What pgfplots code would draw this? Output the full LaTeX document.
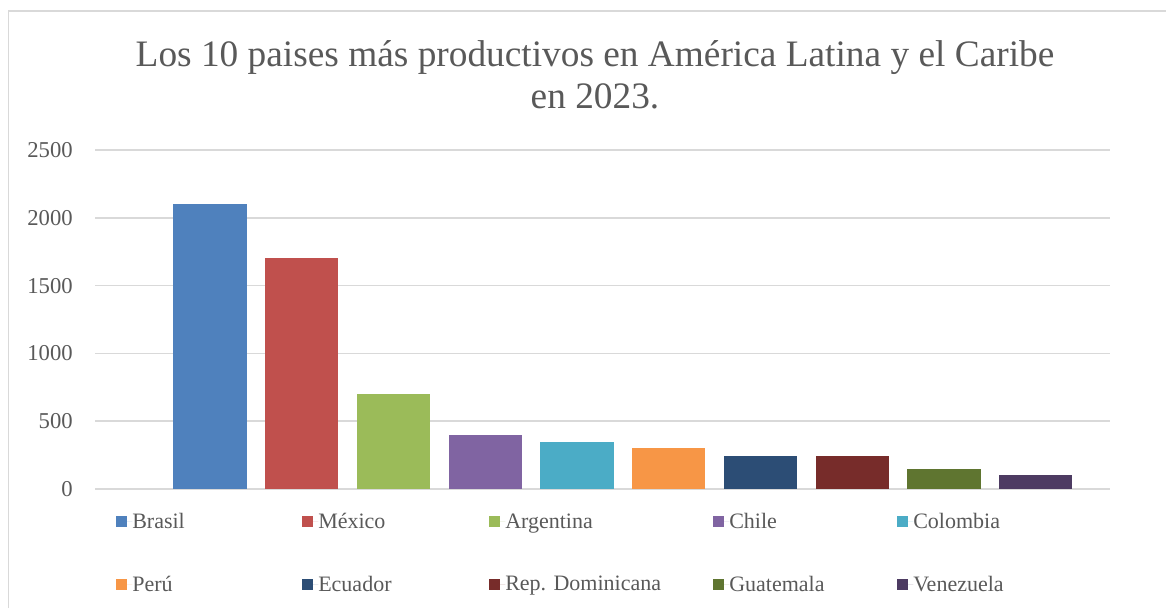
\documentclass[border=0pt]{standalone}
\usepackage{pgfplots}
\pgfplotsset{compat=1.18}
\usepackage{fontspec}
\setmainfont{Liberation Serif}
\definecolor{txt}{HTML}{595959}
\definecolor{gridc}{HTML}{D9D9D9}
\definecolor{c1}{HTML}{4F81BD}
\definecolor{c2}{HTML}{C0504D}
\definecolor{c3}{HTML}{9BBB59}
\definecolor{c4}{HTML}{8064A2}
\definecolor{c5}{HTML}{4BACC6}
\definecolor{c6}{HTML}{F79646}
\definecolor{c7}{HTML}{2C4D75}
\definecolor{c8}{HTML}{772C2A}
\definecolor{c9}{HTML}{5F7530}
\definecolor{c10}{HTML}{4D3B62}
\begin{document}
\begin{tikzpicture}
\useasboundingbox (0pt,0pt) rectangle (874.5pt,456pt);
\draw[gridc, line width=1.2pt] (6.375pt,0pt) -- (6.375pt,447.75pt) -- (874.5pt,447.75pt);
\node[anchor=base, font=\fontsize{28pt}{32pt}\selectfont, text=txt, inner sep=0pt] at (446.25pt,405.75pt) {Los 10 paises más productivos en América Latina y el Caribe};
\node[anchor=base, font=\fontsize{28pt}{32pt}\selectfont, text=txt, inner sep=0pt] at (446.25pt,374.25pt) {en 2023.};
\begin{axis}[
  at={(71.25pt,89.25pt)}, anchor=south west,
  scale only axis, width=761.25pt, height=254.25pt,
  xmin=-1.254, xmax=9.81, ymin=0, ymax=2500,
  ytick={0,500,1000,1500,2000,2500},
  xtick=\empty,
  ymajorgrids, grid style={gridc, line width=1.2pt},
  axis line style={draw=none},
  major tick length=0pt,
  /pgf/number format/assume math mode=true,
  /pgf/number format/1000 sep={},
  yticklabel style={font=\fontsize{17pt}{19pt}\selectfont, text=txt, inner sep=0pt, xshift=-16.5pt},
  legend columns=5,
  legend style={at={(0.0207,-0.071)}, anchor=north west, draw=none, fill=none, inner sep=0pt,
    font=\fontsize{16.5pt}{19pt}\selectfont, text=txt,
    nodes={inner sep=0pt, anchor=west},
    /tikz/column sep=0pt, /tikz/row sep=34pt},
  legend cell align=left,
  legend image code/.code={\fill[#1] (0pt,-4.125pt) rectangle (8.25pt,4.125pt); \path (0pt,0pt) -- (12pt,0pt);},
]
\addplot[ybar, bar width=0.8, fill=c1, draw=none] coordinates {(0,2100)};
\addlegendentry{\makebox[127.5pt][l]{Brasil}}
\addplot[ybar, bar width=0.8, fill=c2, draw=none] coordinates {(1,1700)};
\addlegendentry{\makebox[128.25pt][l]{México}}
\addplot[ybar, bar width=0.8, fill=c3, draw=none] coordinates {(2,700)};
\addlegendentry{\makebox[156pt][l]{Argentina}}
\addplot[ybar, bar width=0.8, fill=c4, draw=none] coordinates {(3,400)};
\addlegendentry{\makebox[126pt][l]{Chile}}
\addplot[ybar, bar width=0.8, fill=c5, draw=none] coordinates {(4,350)};
\addlegendentry{\makebox[100pt][l]{Colombia}}
\addplot[ybar, bar width=0.8, fill=c6, draw=none] coordinates {(5,305)};
\addlegendentry{Perú}
\addplot[ybar, bar width=0.8, fill=c7, draw=none] coordinates {(6,245)};
\addlegendentry{Ecuador}
\addplot[ybar, bar width=0.8, fill=c8, draw=none] coordinates {(7,245)};
\addlegendentry{Rep. Dominicana}
\addplot[ybar, bar width=0.8, fill=c9, draw=none] coordinates {(8,150)};
\addlegendentry{Guatemala}
\addplot[ybar, bar width=0.8, fill=c10, draw=none] coordinates {(9,100)};
\addlegendentry{Venezuela}
\end{axis}
\end{tikzpicture}
\end{document}
